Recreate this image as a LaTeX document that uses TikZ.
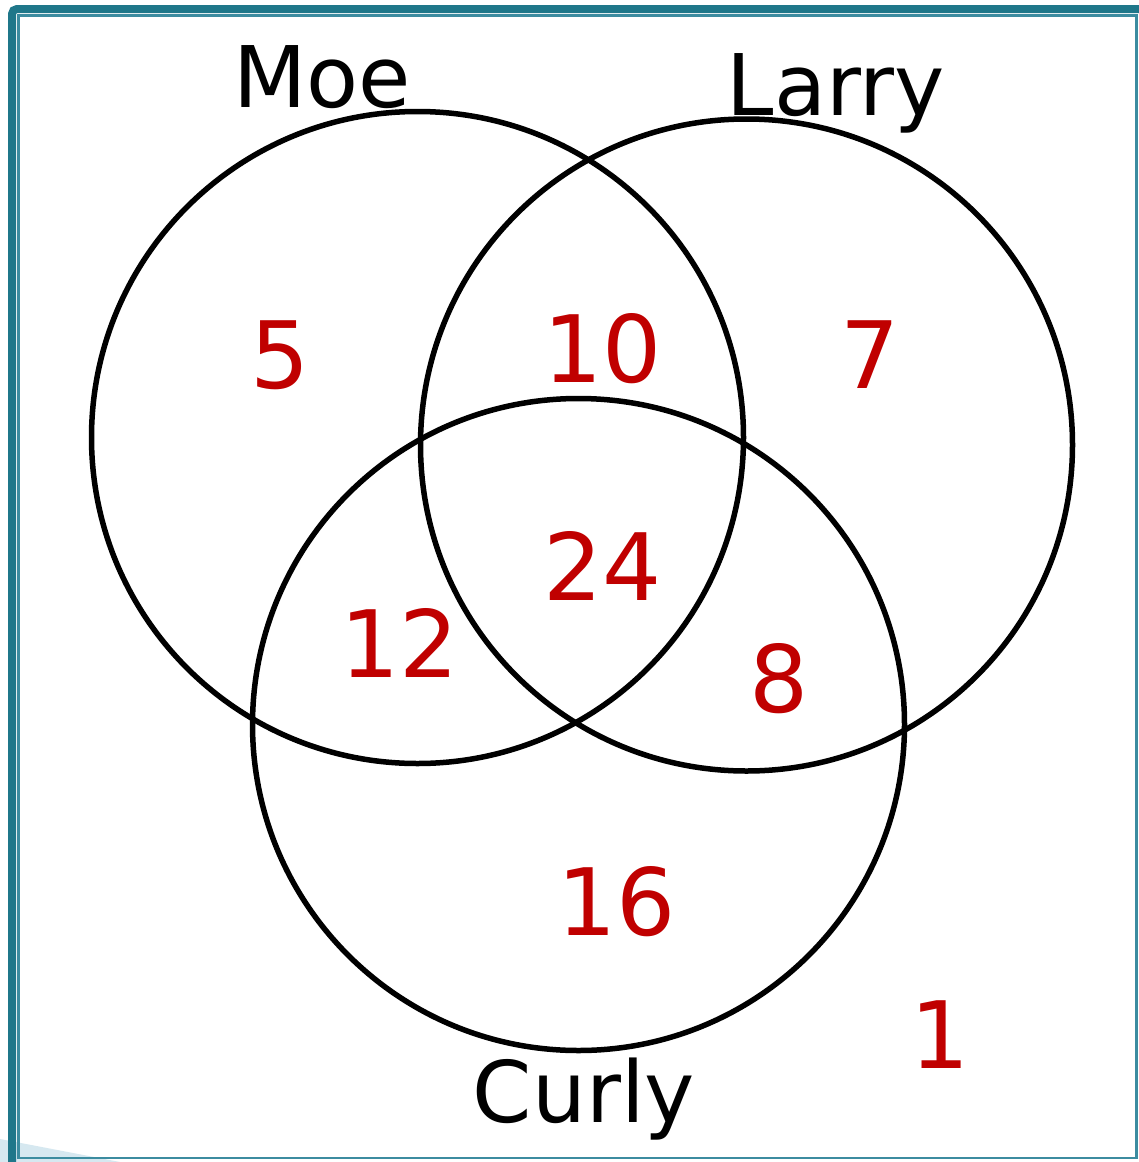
\documentclass[tikz,border=0pt]{standalone}
\usepackage{fontspec}
\setmainfont{DejaVu Sans}
\definecolor{frameteal}{RGB}{31,119,138}
\definecolor{innerteal}{RGB}{60,140,160}
\definecolor{wedge}{RGB}{214,232,240}
\definecolor{numred}{RGB}{192,0,0}
\begin{document}
\begin{tikzpicture}[x=1pt,y=-1pt,
  setcircle/.style={circle,draw=black,line width=5.5pt,inner sep=0pt,minimum size=652pt},
  setname/.style={anchor=base,inner sep=0pt,font=\fontsize{85}{100}\selectfont},
  count/.style={anchor=base,inner sep=0pt,text=numred,font=\fontsize{93}{110}\selectfont}]
\useasboundingbox (0,0) rectangle (1138,1162);
\fill[white] (0,0) rectangle (1138,1162);
% light wedge bottom-left
\fill[wedge] (0,1139) -- (120,1162) -- (0,1162) -- cycle;
% outer thick frame (top and left)
\draw[frameteal,line width=8pt,rounded corners=5pt] (12,1170) -- (12,9) -- (1150,9);
% inner thin frame
\draw[innerteal,line width=2.4pt] (18.5,15.5) rectangle (1136.5,1158);
% circles
\node[setcircle] (moe) at (417.5,437.5) {};
\node[setcircle] (larry) at (746.5,445) {};
\node[setcircle] (curly) at (578.5,724.5) {};
% names
\node[setname] (moelabel) at (322,107) {Moe};
\node[setname] (larrylabel) at (836,115) {Larry};
\node[setname] (curlylabel) at (584,1122) {Curly};
% counts
\node[count] (n5) at (280,388) {5};
\node[count] (n10) at (603,382) {10};
\node[count] (n7) at (870,388) {7};
\node[count] (n24) at (603,600) {24};
\node[count] (n12) at (400,677) {12};
\node[count] (n8) at (779,712) {8};
\node[count] (n16) at (617,935) {16};
\node[count] (n1) at (940,1068) {1};
\end{tikzpicture}
\end{document}
